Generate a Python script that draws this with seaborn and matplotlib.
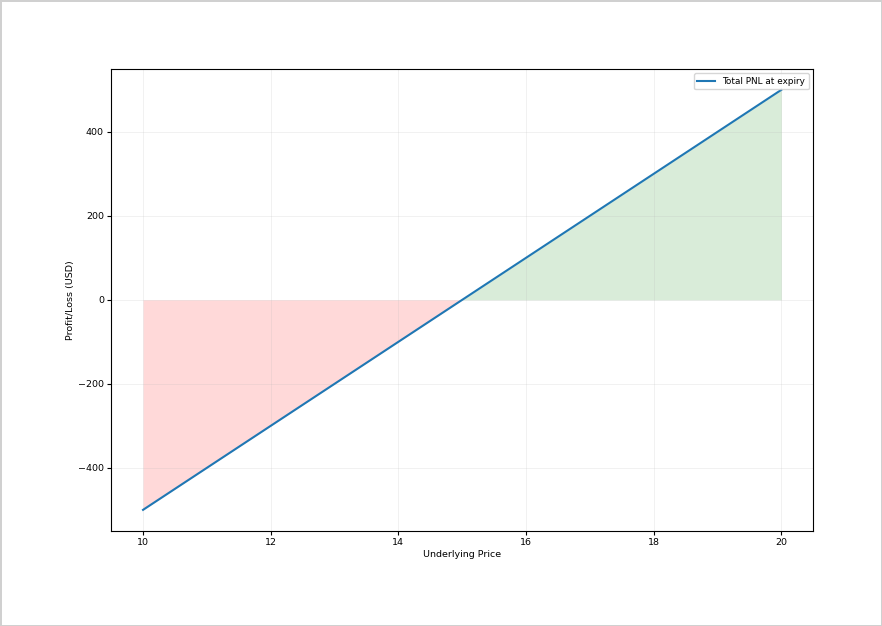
import numpy as np
import pandas as pd
import matplotlib
matplotlib.use("Agg")
import matplotlib.pyplot as plt
import seaborn as sns

# Payoff at expiry
underlyingPrice = [10, 15, 20]
totalPnl = [-500, 0, 500]

pnlDf = pd.DataFrame({"price": underlyingPrice, "pnl": totalPnl})

plt.rcParams["font.family"] = ["DejaVu Sans"]
plt.rcParams["font.size"] = 6.8
plt.rcParams["xtick.major.size"] = 2.6
plt.rcParams["ytick.major.size"] = 2.6
plt.rcParams["xtick.major.pad"] = 2.6
plt.rcParams["ytick.major.pad"] = 2.6
plt.rcParams["axes.labelpad"] = 2

fig = plt.figure(figsize=(8.82, 6.26), dpi=100)
fig.patch.set_edgecolor("#d0d0d0")
fig.patch.set_linewidth(2)
ax = fig.add_axes([0.126, 0.152, 0.796, 0.738])

sns.lineplot(data=pnlDf, x="price", y="pnl", ax=ax, color="#1f77b4",
             linewidth=1.5, label="Total PNL at expiry")

x = np.array(underlyingPrice, dtype=float)
y = np.array(totalPnl, dtype=float)
ax.fill_between(x, y, 0, where=(y >= 0), interpolate=True, color="green", alpha=0.15, linewidth=0)
ax.fill_between(x, y, 0, where=(y <= 0), interpolate=True, color="red", alpha=0.15, linewidth=0)

ax.set_xlabel("Underlying Price")
ax.set_ylabel("Profit/Loss (USD)")
ax.set_yticks([-400, -200, 0, 200, 400])
ax.grid(True, alpha=0.2, linewidth=0.6)
ax.legend(loc="upper right", fontsize=6.4)

fig.savefig("out.png", dpi=100)
